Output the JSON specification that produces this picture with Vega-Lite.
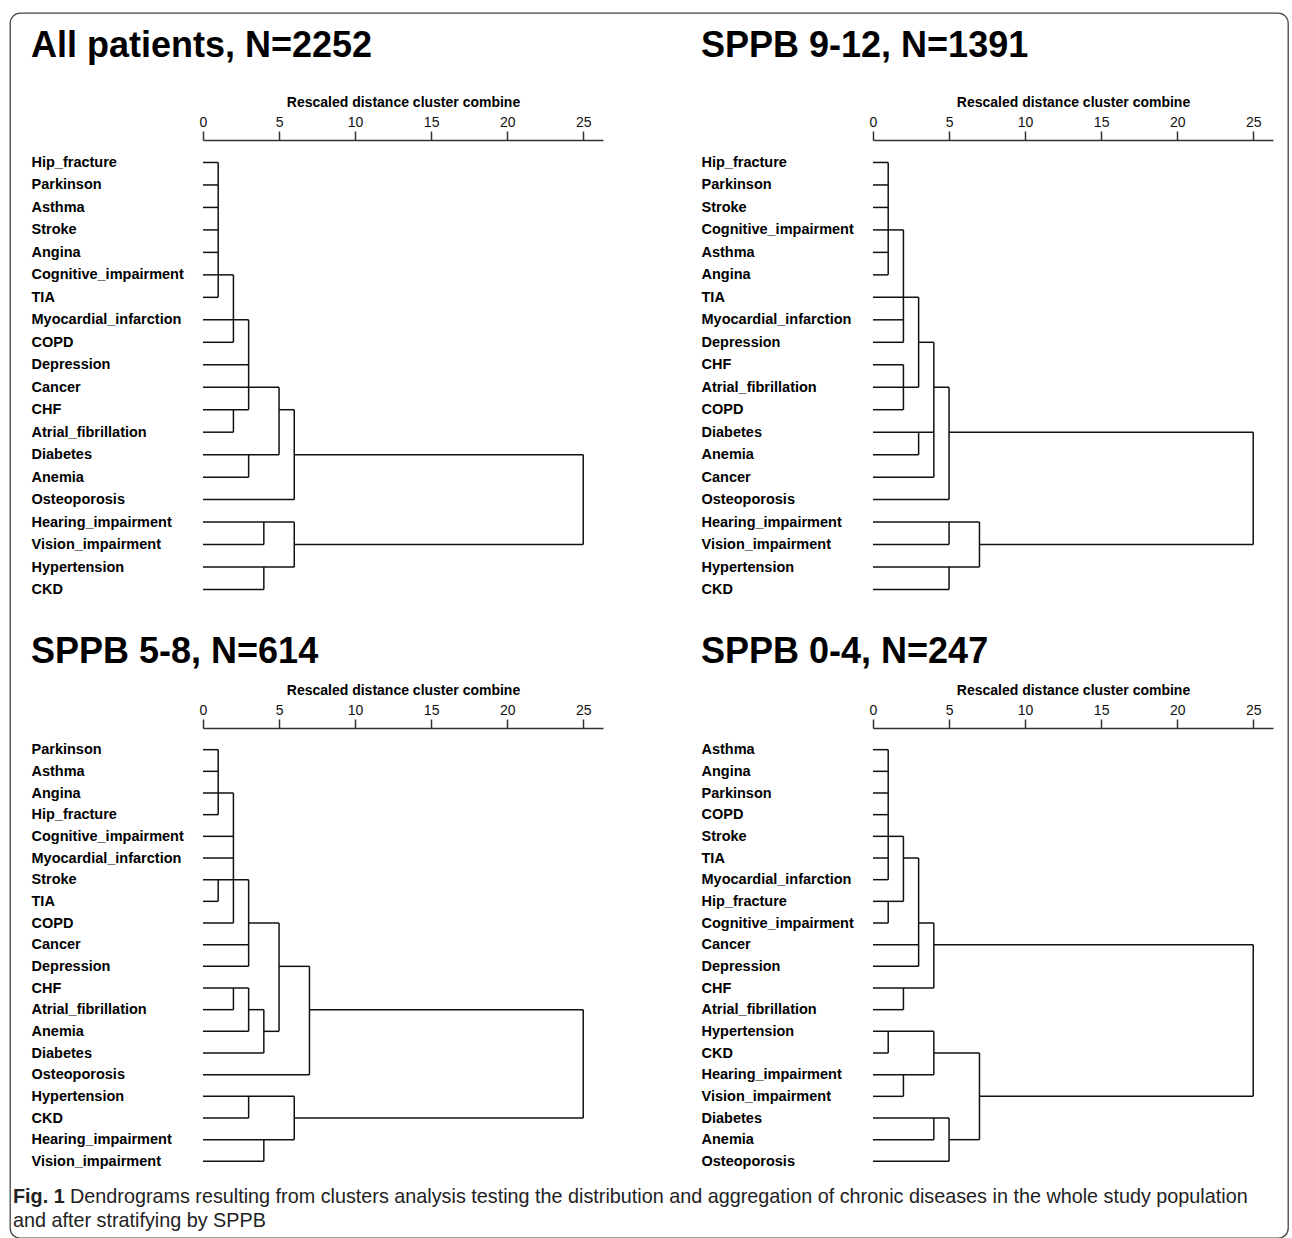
{
  "$schema": "https://vega.github.io/schema/vega-lite/v6.json",
  "background": "white",
  "padding": {"left": 9, "top": 12, "right": 2, "bottom": 0},
  "config": {
    "view": {"stroke": null},
    "font": "Liberation Sans",
    "title": {"fontSize": 36, "fontWeight": "bold", "anchor": "start", "frame": "bounds", "color": "#000", "font": "Liberation Sans"},
    "axisX": {"titleFontSize": 14, "titleFontWeight": "bold", "titleColor": "#000", "titlePadding": 6, "labelFontSize": 14, "labelFontWeight": "normal", "labelColor": "#111", "labelPadding": 2, "labelFlush": false, "tickSize": 9, "grid": false, "domainColor": "#333", "tickColor": "#333", "domainWidth": 1.5, "tickWidth": 1.5},
    "axisY": {"domain": false, "ticks": false, "tickSize": 0, "labelAlign": "left", "labelBaseline": "middle", "labelPadding": 172, "labelFontSize": 14.5, "labelFontWeight": "bold", "labelColor": "#000", "labelOverlap": false, "labelLimit": 300, "grid": false}
  },
  "datasets": {
    "p1": [
      {"from": "Hip_fracture", "to": "Hip_fracture", "d0": 0, "d1": 1},
      {"from": "Parkinson", "to": "Parkinson", "d0": 0, "d1": 1},
      {"from": "Asthma", "to": "Asthma", "d0": 0, "d1": 1},
      {"from": "Stroke", "to": "Stroke", "d0": 0, "d1": 1},
      {"from": "Angina", "to": "Angina", "d0": 0, "d1": 1},
      {"from": "Cognitive_impairment", "to": "Cognitive_impairment", "d0": 0, "d1": 2},
      {"from": "TIA", "to": "TIA", "d0": 0, "d1": 1},
      {"from": "Myocardial_infarction", "to": "Myocardial_infarction", "d0": 0, "d1": 3},
      {"from": "COPD", "to": "COPD", "d0": 0, "d1": 2},
      {"from": "Depression", "to": "Depression", "d0": 0, "d1": 3},
      {"from": "Cancer", "to": "Cancer", "d0": 0, "d1": 5},
      {"from": "CHF", "to": "CHF", "d0": 0, "d1": 3},
      {"from": "CHF", "to": "CHF", "d0": 5, "d1": 6},
      {"from": "Atrial_fibrillation", "to": "Atrial_fibrillation", "d0": 0, "d1": 2},
      {"from": "Diabetes", "to": "Diabetes", "d0": 0, "d1": 5},
      {"from": "Diabetes", "to": "Diabetes", "d0": 6, "d1": 25},
      {"from": "Anemia", "to": "Anemia", "d0": 0, "d1": 3},
      {"from": "Osteoporosis", "to": "Osteoporosis", "d0": 0, "d1": 6},
      {"from": "Hearing_impairment", "to": "Hearing_impairment", "d0": 0, "d1": 6},
      {"from": "Vision_impairment", "to": "Vision_impairment", "d0": 0, "d1": 4},
      {"from": "Vision_impairment", "to": "Vision_impairment", "d0": 6, "d1": 25},
      {"from": "Hypertension", "to": "Hypertension", "d0": 0, "d1": 6},
      {"from": "CKD", "to": "CKD", "d0": 0, "d1": 4},
      {"from": "Hip_fracture", "to": "TIA", "d0": 1, "d1": 1},
      {"from": "Cognitive_impairment", "to": "COPD", "d0": 2, "d1": 2},
      {"from": "Myocardial_infarction", "to": "CHF", "d0": 3, "d1": 3},
      {"from": "CHF", "to": "Atrial_fibrillation", "d0": 2, "d1": 2},
      {"from": "Diabetes", "to": "Anemia", "d0": 3, "d1": 3},
      {"from": "Cancer", "to": "Diabetes", "d0": 5, "d1": 5},
      {"from": "CHF", "to": "Osteoporosis", "d0": 6, "d1": 6},
      {"from": "Hearing_impairment", "to": "Vision_impairment", "d0": 4, "d1": 4},
      {"from": "Hypertension", "to": "CKD", "d0": 4, "d1": 4},
      {"from": "Hearing_impairment", "to": "Hypertension", "d0": 6, "d1": 6},
      {"from": "Diabetes", "to": "Vision_impairment", "d0": 25, "d1": 25}
    ],
    "p2": [
      {"from": "Hip_fracture", "to": "Hip_fracture", "d0": 0, "d1": 1},
      {"from": "Parkinson", "to": "Parkinson", "d0": 0, "d1": 1},
      {"from": "Stroke", "to": "Stroke", "d0": 0, "d1": 1},
      {"from": "Cognitive_impairment", "to": "Cognitive_impairment", "d0": 0, "d1": 2},
      {"from": "Asthma", "to": "Asthma", "d0": 0, "d1": 1},
      {"from": "Angina", "to": "Angina", "d0": 0, "d1": 1},
      {"from": "TIA", "to": "TIA", "d0": 0, "d1": 3},
      {"from": "Myocardial_infarction", "to": "Myocardial_infarction", "d0": 0, "d1": 2},
      {"from": "Depression", "to": "Depression", "d0": 0, "d1": 2},
      {"from": "Depression", "to": "Depression", "d0": 3, "d1": 4},
      {"from": "CHF", "to": "CHF", "d0": 0, "d1": 2},
      {"from": "Atrial_fibrillation", "to": "Atrial_fibrillation", "d0": 0, "d1": 3},
      {"from": "Atrial_fibrillation", "to": "Atrial_fibrillation", "d0": 4, "d1": 5},
      {"from": "COPD", "to": "COPD", "d0": 0, "d1": 2},
      {"from": "Diabetes", "to": "Diabetes", "d0": 0, "d1": 4},
      {"from": "Diabetes", "to": "Diabetes", "d0": 5, "d1": 25},
      {"from": "Anemia", "to": "Anemia", "d0": 0, "d1": 3},
      {"from": "Cancer", "to": "Cancer", "d0": 0, "d1": 4},
      {"from": "Osteoporosis", "to": "Osteoporosis", "d0": 0, "d1": 5},
      {"from": "Hearing_impairment", "to": "Hearing_impairment", "d0": 0, "d1": 7},
      {"from": "Vision_impairment", "to": "Vision_impairment", "d0": 0, "d1": 5},
      {"from": "Vision_impairment", "to": "Vision_impairment", "d0": 7, "d1": 25},
      {"from": "Hypertension", "to": "Hypertension", "d0": 0, "d1": 7},
      {"from": "CKD", "to": "CKD", "d0": 0, "d1": 5},
      {"from": "Hip_fracture", "to": "Angina", "d0": 1, "d1": 1},
      {"from": "Cognitive_impairment", "to": "Depression", "d0": 2, "d1": 2},
      {"from": "TIA", "to": "Atrial_fibrillation", "d0": 3, "d1": 3},
      {"from": "CHF", "to": "COPD", "d0": 2, "d1": 2},
      {"from": "Depression", "to": "Cancer", "d0": 4, "d1": 4},
      {"from": "Diabetes", "to": "Anemia", "d0": 3, "d1": 3},
      {"from": "Atrial_fibrillation", "to": "Osteoporosis", "d0": 5, "d1": 5},
      {"from": "Hearing_impairment", "to": "Vision_impairment", "d0": 5, "d1": 5},
      {"from": "Hypertension", "to": "CKD", "d0": 5, "d1": 5},
      {"from": "Hearing_impairment", "to": "Hypertension", "d0": 7, "d1": 7},
      {"from": "Diabetes", "to": "Vision_impairment", "d0": 25, "d1": 25}
    ],
    "p3": [
      {"from": "Parkinson", "to": "Parkinson", "d0": 0, "d1": 1},
      {"from": "Asthma", "to": "Asthma", "d0": 0, "d1": 1},
      {"from": "Angina", "to": "Angina", "d0": 0, "d1": 2},
      {"from": "Hip_fracture", "to": "Hip_fracture", "d0": 0, "d1": 1},
      {"from": "Cognitive_impairment", "to": "Cognitive_impairment", "d0": 0, "d1": 2},
      {"from": "Myocardial_infarction", "to": "Myocardial_infarction", "d0": 0, "d1": 2},
      {"from": "Stroke", "to": "Stroke", "d0": 0, "d1": 3},
      {"from": "TIA", "to": "TIA", "d0": 0, "d1": 1},
      {"from": "COPD", "to": "COPD", "d0": 0, "d1": 2},
      {"from": "COPD", "to": "COPD", "d0": 3, "d1": 5},
      {"from": "Cancer", "to": "Cancer", "d0": 0, "d1": 3},
      {"from": "Depression", "to": "Depression", "d0": 0, "d1": 3},
      {"from": "Depression", "to": "Depression", "d0": 5, "d1": 7},
      {"from": "CHF", "to": "CHF", "d0": 0, "d1": 3},
      {"from": "Atrial_fibrillation", "to": "Atrial_fibrillation", "d0": 0, "d1": 2},
      {"from": "Atrial_fibrillation", "to": "Atrial_fibrillation", "d0": 3, "d1": 4},
      {"from": "Atrial_fibrillation", "to": "Atrial_fibrillation", "d0": 7, "d1": 25},
      {"from": "Anemia", "to": "Anemia", "d0": 0, "d1": 3},
      {"from": "Anemia", "to": "Anemia", "d0": 4, "d1": 5},
      {"from": "Diabetes", "to": "Diabetes", "d0": 0, "d1": 4},
      {"from": "Osteoporosis", "to": "Osteoporosis", "d0": 0, "d1": 7},
      {"from": "Hypertension", "to": "Hypertension", "d0": 0, "d1": 6},
      {"from": "CKD", "to": "CKD", "d0": 0, "d1": 3},
      {"from": "CKD", "to": "CKD", "d0": 6, "d1": 25},
      {"from": "Hearing_impairment", "to": "Hearing_impairment", "d0": 0, "d1": 6},
      {"from": "Vision_impairment", "to": "Vision_impairment", "d0": 0, "d1": 4},
      {"from": "Parkinson", "to": "Hip_fracture", "d0": 1, "d1": 1},
      {"from": "Angina", "to": "COPD", "d0": 2, "d1": 2},
      {"from": "Stroke", "to": "TIA", "d0": 1, "d1": 1},
      {"from": "Stroke", "to": "Depression", "d0": 3, "d1": 3},
      {"from": "COPD", "to": "Anemia", "d0": 5, "d1": 5},
      {"from": "Depression", "to": "Osteoporosis", "d0": 7, "d1": 7},
      {"from": "CHF", "to": "Atrial_fibrillation", "d0": 2, "d1": 2},
      {"from": "CHF", "to": "Anemia", "d0": 3, "d1": 3},
      {"from": "Atrial_fibrillation", "to": "Diabetes", "d0": 4, "d1": 4},
      {"from": "Hypertension", "to": "CKD", "d0": 3, "d1": 3},
      {"from": "Hearing_impairment", "to": "Vision_impairment", "d0": 4, "d1": 4},
      {"from": "Hypertension", "to": "Hearing_impairment", "d0": 6, "d1": 6},
      {"from": "Atrial_fibrillation", "to": "CKD", "d0": 25, "d1": 25}
    ],
    "p4": [
      {"from": "Asthma", "to": "Asthma", "d0": 0, "d1": 1},
      {"from": "Angina", "to": "Angina", "d0": 0, "d1": 1},
      {"from": "Parkinson", "to": "Parkinson", "d0": 0, "d1": 1},
      {"from": "COPD", "to": "COPD", "d0": 0, "d1": 1},
      {"from": "Stroke", "to": "Stroke", "d0": 0, "d1": 2},
      {"from": "TIA", "to": "TIA", "d0": 0, "d1": 1},
      {"from": "TIA", "to": "TIA", "d0": 2, "d1": 3},
      {"from": "Myocardial_infarction", "to": "Myocardial_infarction", "d0": 0, "d1": 1},
      {"from": "Hip_fracture", "to": "Hip_fracture", "d0": 0, "d1": 2},
      {"from": "Cognitive_impairment", "to": "Cognitive_impairment", "d0": 0, "d1": 1},
      {"from": "Cognitive_impairment", "to": "Cognitive_impairment", "d0": 3, "d1": 4},
      {"from": "Cancer", "to": "Cancer", "d0": 0, "d1": 3},
      {"from": "Cancer", "to": "Cancer", "d0": 4, "d1": 25},
      {"from": "Depression", "to": "Depression", "d0": 0, "d1": 3},
      {"from": "CHF", "to": "CHF", "d0": 0, "d1": 4},
      {"from": "Atrial_fibrillation", "to": "Atrial_fibrillation", "d0": 0, "d1": 2},
      {"from": "Hypertension", "to": "Hypertension", "d0": 0, "d1": 4},
      {"from": "CKD", "to": "CKD", "d0": 0, "d1": 1},
      {"from": "CKD", "to": "CKD", "d0": 4, "d1": 7},
      {"from": "Hearing_impairment", "to": "Hearing_impairment", "d0": 0, "d1": 4},
      {"from": "Vision_impairment", "to": "Vision_impairment", "d0": 0, "d1": 2},
      {"from": "Vision_impairment", "to": "Vision_impairment", "d0": 7, "d1": 25},
      {"from": "Diabetes", "to": "Diabetes", "d0": 0, "d1": 5},
      {"from": "Anemia", "to": "Anemia", "d0": 0, "d1": 4},
      {"from": "Anemia", "to": "Anemia", "d0": 5, "d1": 7},
      {"from": "Osteoporosis", "to": "Osteoporosis", "d0": 0, "d1": 5},
      {"from": "Asthma", "to": "Myocardial_infarction", "d0": 1, "d1": 1},
      {"from": "Stroke", "to": "Hip_fracture", "d0": 2, "d1": 2},
      {"from": "Hip_fracture", "to": "Cognitive_impairment", "d0": 1, "d1": 1},
      {"from": "TIA", "to": "Depression", "d0": 3, "d1": 3},
      {"from": "Cognitive_impairment", "to": "CHF", "d0": 4, "d1": 4},
      {"from": "CHF", "to": "Atrial_fibrillation", "d0": 2, "d1": 2},
      {"from": "Hypertension", "to": "CKD", "d0": 1, "d1": 1},
      {"from": "Hypertension", "to": "Hearing_impairment", "d0": 4, "d1": 4},
      {"from": "Hearing_impairment", "to": "Vision_impairment", "d0": 2, "d1": 2},
      {"from": "CKD", "to": "Anemia", "d0": 7, "d1": 7},
      {"from": "Diabetes", "to": "Anemia", "d0": 4, "d1": 4},
      {"from": "Diabetes", "to": "Osteoporosis", "d0": 5, "d1": 5},
      {"from": "Cancer", "to": "Vision_impairment", "d0": 25, "d1": 25}
    ]
  },
  "columns": 2,
  "align": "none",
  "bounds": "full",
  "spacing": {"row": -1211, "column": -1276},
  "concat": [
    {
      "width": 1278, "height": 1225,
      "view": {"stroke": "#444", "strokeWidth": 1.3, "cornerRadius": 10, "fill": null},
      "data": {"values": []},
      "mark": "point",
      "encoding": {}
    },
    {"width": 1, "height": 1, "data": {"values": []}, "mark": "point", "encoding": {}},
    {"width": 1, "height": 1, "data": {"values": []}, "mark": "point", "encoding": {}},
    {
      "title": {
        "text": "and after stratifying by SPPB",
        "orient": "bottom", "anchor": "start", "frame": "bounds",
        "fontSize": 19.8, "fontWeight": "normal", "font": "Liberation Sans", "color": "#222",
        "offset": 4, "dx": 0
      },
      "vconcat": [
        {
          "title": {
            "text": "Dendrograms resulting from clusters analysis testing the distribution and aggregation of chronic diseases in the whole study population",
            "orient": "bottom", "anchor": "start", "frame": "bounds",
            "fontSize": 19.8, "fontWeight": "normal", "font": "Liberation Sans", "color": "#222",
            "offset": 0, "dx": 57, "dy": -20
          },
          "vconcat": [
            {
              "title": {
                "text": "Fig. 1",
                "orient": "bottom", "anchor": "start", "frame": "bounds",
                "fontSize": 19.8, "fontWeight": "bold", "font": "Liberation Sans", "color": "#222",
                "offset": 4, "dx": -18
              },
              "spacing": 22,
              "vconcat": [
                {
                  "spacing": 98,
                  "hconcat": [
                    {
                      "width": 400, "height": 472,
                      "title": {"text": "All patients, N=2252", "offset": 30},
                      "data": {"name": "p1"},
                      "mark": {"type": "rule", "stroke": "#111", "strokeWidth": 1.5},
                      "encoding": {
                        "x": {"field": "d0", "type": "quantitative", "scale": {"domain": [0, 26.3], "nice": false, "zero": false}, "axis": {"orient": "top", "values": [0, 5, 10, 15, 20, 25], "title": "Rescaled distance cluster combine"}},
                        "x2": {"field": "d1"},
                        "y": {"field": "from", "type": "ordinal", "axis": {"orient": "left", "title": null},
                              "scale": {"type": "point", "padding": 1.08, "domain": ["Hip_fracture","Parkinson","Asthma","Stroke","Angina","Cognitive_impairment","TIA","Myocardial_infarction","COPD","Depression","Cancer","CHF","Atrial_fibrillation","Diabetes","Anemia","Osteoporosis","Hearing_impairment","Vision_impairment","Hypertension","CKD"]}},
                        "y2": {"field": "to"}
                      }
                    },
                    {
                      "width": 400, "height": 472,
                      "title": {"text": "SPPB 9-12, N=1391", "offset": 30},
                      "data": {"name": "p2"},
                      "mark": {"type": "rule", "stroke": "#111", "strokeWidth": 1.5},
                      "encoding": {
                        "x": {"field": "d0", "type": "quantitative", "scale": {"domain": [0, 26.3], "nice": false, "zero": false}, "axis": {"orient": "top", "values": [0, 5, 10, 15, 20, 25], "title": "Rescaled distance cluster combine"}},
                        "x2": {"field": "d1"},
                        "y": {"field": "from", "type": "ordinal", "axis": {"orient": "left", "title": null},
                              "scale": {"type": "point", "padding": 1.08, "domain": ["Hip_fracture","Parkinson","Stroke","Cognitive_impairment","Asthma","Angina","TIA","Myocardial_infarction","Depression","CHF","Atrial_fibrillation","COPD","Diabetes","Anemia","Cancer","Osteoporosis","Hearing_impairment","Vision_impairment","Hypertension","CKD"]}},
                        "y2": {"field": "to"}
                      }
                    }
                  ]
                },
                {
                  "spacing": 98,
                  "hconcat": [
                    {
                      "width": 400, "height": 455,
                      "title": {"text": "SPPB 5-8, N=614", "offset": 12},
                      "data": {"name": "p3"},
                      "mark": {"type": "rule", "stroke": "#111", "strokeWidth": 1.5},
                      "encoding": {
                        "x": {"field": "d0", "type": "quantitative", "scale": {"domain": [0, 26.3], "nice": false, "zero": false}, "axis": {"orient": "top", "values": [0, 5, 10, 15, 20, 25], "title": "Rescaled distance cluster combine"}},
                        "x2": {"field": "d1"},
                        "y": {"field": "from", "type": "ordinal", "axis": {"orient": "left", "title": null},
                              "scale": {"type": "point", "padding": 1.08, "domain": ["Parkinson","Asthma","Angina","Hip_fracture","Cognitive_impairment","Myocardial_infarction","Stroke","TIA","COPD","Cancer","Depression","CHF","Atrial_fibrillation","Anemia","Diabetes","Osteoporosis","Hypertension","CKD","Hearing_impairment","Vision_impairment"]}},
                        "y2": {"field": "to"}
                      }
                    },
                    {
                      "width": 400, "height": 455,
                      "title": {"text": "SPPB 0-4, N=247", "offset": 12},
                      "data": {"name": "p4"},
                      "mark": {"type": "rule", "stroke": "#111", "strokeWidth": 1.5},
                      "encoding": {
                        "x": {"field": "d0", "type": "quantitative", "scale": {"domain": [0, 26.3], "nice": false, "zero": false}, "axis": {"orient": "top", "values": [0, 5, 10, 15, 20, 25], "title": "Rescaled distance cluster combine"}},
                        "x2": {"field": "d1"},
                        "y": {"field": "from", "type": "ordinal", "axis": {"orient": "left", "title": null},
                              "scale": {"type": "point", "padding": 1.08, "domain": ["Asthma","Angina","Parkinson","COPD","Stroke","TIA","Myocardial_infarction","Hip_fracture","Cognitive_impairment","Cancer","Depression","CHF","Atrial_fibrillation","Hypertension","CKD","Hearing_impairment","Vision_impairment","Diabetes","Anemia","Osteoporosis"]}},
                        "y2": {"field": "to"}
                      }
                    }
                  ]
                }
              ]
            }
          ]
        }
      ]
    }
  ]
}
